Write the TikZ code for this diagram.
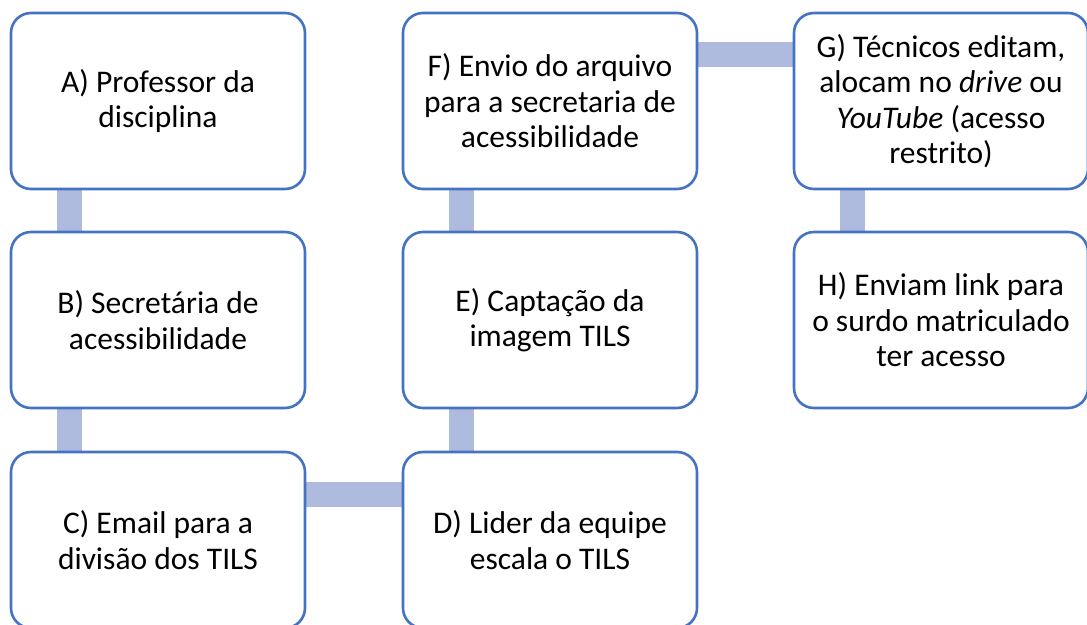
\documentclass[tikz,border=0pt]{standalone}
\usepackage{fontspec}
\setmainfont{Carlito}
\usetikzlibrary{backgrounds,calc}
\definecolor{boxblue}{RGB}{68,114,196}
\definecolor{connblue}{RGB}{174,187,222}
\tikzset{
  stepbox/.style={draw=boxblue, line width=2.6pt, fill=white, rounded corners=20pt,
    minimum width=294pt, minimum height=176pt, align=center, inner sep=0pt,
    font=\fontsize{31.5pt}{35.5pt}\selectfont},
  conn/.style={draw=connblue, line width=25pt}
}
\begin{document}
\begin{tikzpicture}
\useasboundingbox (0,0) rectangle (1087pt,-624pt);
\node[stepbox] (A) at (158pt,-101pt) {A) Professor da\\disciplina};
\node[stepbox] (B) at (158pt,-320pt) {B) Secretária de\\acessibilidade};
\node[stepbox] (C) at (158pt,-540pt) {C) Email para a\\divisão dos TILS};
\node[stepbox] (D) at (550pt,-540pt) {D) Lider da equipe\\escala o TILS};
\node[stepbox] (E) at (550pt,-320pt) {E) Captação da\\imagem TILS};
\node[stepbox] (F) at (550pt,-101pt) {F) Envio do arquivo\\para a secretaria de\\acessibilidade};
\node[stepbox] (G) at (941pt,-101pt) {G) Técnicos editam,\\alocam no \textit{drive} ou\\\textit{YouTube} (acesso\\restrito)};
\node[stepbox] (H) at (941pt,-320pt) {H) Enviam link para\\o surdo matriculado\\ter acesso};
\begin{scope}[on background layer]
\draw[conn] ($(A.south west)+(60pt,0)$) -- ($(B.north west)+(60pt,0)$);
\draw[conn] ($(B.south west)+(60pt,0)$) -- ($(C.north west)+(60pt,0)$);
\draw[conn] ($(C.north east)+(0,-44pt)$) -- ($(D.north west)+(0,-44pt)$);
\draw[conn] ($(D.north west)+(60pt,0)$) -- ($(E.south west)+(60pt,0)$);
\draw[conn] ($(E.north west)+(60pt,0)$) -- ($(F.south west)+(60pt,0)$);
\draw[conn] ($(F.north east)+(0,-43pt)$) -- ($(G.north west)+(0,-43pt)$);
\draw[conn] ($(G.south west)+(60pt,0)$) -- ($(H.north west)+(60pt,0)$);
\end{scope}
\end{tikzpicture}
\end{document}
